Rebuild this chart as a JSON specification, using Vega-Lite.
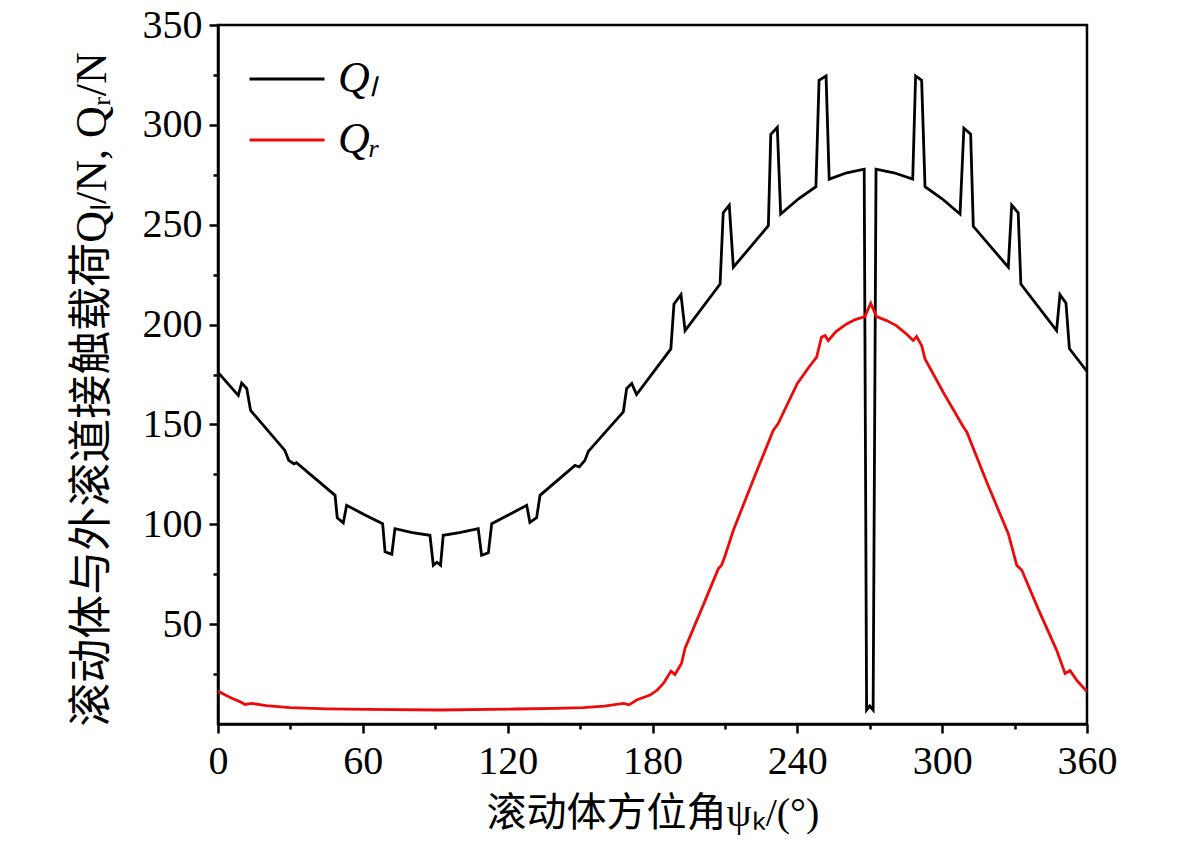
{
  "$schema": "https://vega.github.io/schema/vega-lite/v6.json",
  "width": 869,
  "height": 699,
  "autosize": "none",
  "padding": {"left": 218, "top": 25, "right": 94, "bottom": 137},
  "background": "white",
  "config": {
    "view": {"stroke": "black", "strokeWidth": 2.5, "fill": null},
    "axis": {
      "zindex": 2,
      "grid": false,
      "ticks": true,
      "domainColor": "black",
      "domainWidth": 2.5,
      "tickColor": "black",
      "tickWidth": 2.5,
      "labelFont": "Liberation Serif",
      "labelFontSize": 40,
      "labelColor": "black",
      "titleFont": "Liberation Serif, Noto Sans CJK SC",
      "titleFontWeight": "normal",
      "titleColor": "black"
    }
  },
  "data": {
    "values": [
      {"angle": 0, "load": 176, "series": "Q_l"},
      {"angle": 8.4, "load": 164.5, "series": "Q_l"},
      {"angle": 9.8, "load": 170.7, "series": "Q_l"},
      {"angle": 11.9, "load": 168, "series": "Q_l"},
      {"angle": 13.5, "load": 157, "series": "Q_l"},
      {"angle": 27.7, "load": 137, "series": "Q_l"},
      {"angle": 29.3, "load": 132, "series": "Q_l"},
      {"angle": 31.5, "load": 130.2, "series": "Q_l"},
      {"angle": 32.5, "load": 130.8, "series": "Q_l"},
      {"angle": 48.5, "load": 114.5, "series": "Q_l"},
      {"angle": 49.4, "load": 103.3, "series": "Q_l"},
      {"angle": 51.9, "load": 100.7, "series": "Q_l"},
      {"angle": 53.3, "load": 109.5, "series": "Q_l"},
      {"angle": 60.7, "load": 104.8, "series": "Q_l"},
      {"angle": 68.2, "load": 100.3, "series": "Q_l"},
      {"angle": 69.2, "load": 86.2, "series": "Q_l"},
      {"angle": 72, "load": 85, "series": "Q_l"},
      {"angle": 73.3, "load": 97.8, "series": "Q_l"},
      {"angle": 80.5, "load": 95.8, "series": "Q_l"},
      {"angle": 87.8, "load": 94.5, "series": "Q_l"},
      {"angle": 89.2, "load": 79.5, "series": "Q_l"},
      {"angle": 90.7, "load": 81, "series": "Q_l"},
      {"angle": 92.2, "load": 79.5, "series": "Q_l"},
      {"angle": 93.3, "load": 94.5, "series": "Q_l"},
      {"angle": 100, "load": 95.8, "series": "Q_l"},
      {"angle": 107.8, "load": 97.8, "series": "Q_l"},
      {"angle": 109.2, "load": 84.5, "series": "Q_l"},
      {"angle": 112, "load": 85.7, "series": "Q_l"},
      {"angle": 113.4, "load": 100.3, "series": "Q_l"},
      {"angle": 120.5, "load": 104.8, "series": "Q_l"},
      {"angle": 127.9, "load": 109.5, "series": "Q_l"},
      {"angle": 129.2, "load": 101, "series": "Q_l"},
      {"angle": 132, "load": 103.3, "series": "Q_l"},
      {"angle": 133.4, "load": 114.5, "series": "Q_l"},
      {"angle": 147.9, "load": 129.5, "series": "Q_l"},
      {"angle": 149.7, "load": 128.7, "series": "Q_l"},
      {"angle": 152, "load": 132, "series": "Q_l"},
      {"angle": 153.4, "load": 136.5, "series": "Q_l"},
      {"angle": 167.9, "load": 156.3, "series": "Q_l"},
      {"angle": 169.3, "load": 168, "series": "Q_l"},
      {"angle": 171.4, "load": 170.5, "series": "Q_l"},
      {"angle": 173.4, "load": 165, "series": "Q_l"},
      {"angle": 187.6, "load": 187.8, "series": "Q_l"},
      {"angle": 188.9, "load": 210.3, "series": "Q_l"},
      {"angle": 191.8, "load": 215, "series": "Q_l"},
      {"angle": 193.5, "load": 197, "series": "Q_l"},
      {"angle": 208, "load": 220.3, "series": "Q_l"},
      {"angle": 209.3, "load": 256, "series": "Q_l"},
      {"angle": 211.8, "load": 259.8, "series": "Q_l"},
      {"angle": 213.5, "load": 228.7, "series": "Q_l"},
      {"angle": 228, "load": 249.5, "series": "Q_l"},
      {"angle": 229, "load": 295.3, "series": "Q_l"},
      {"angle": 231.7, "load": 298.7, "series": "Q_l"},
      {"angle": 233.1, "load": 255.3, "series": "Q_l"},
      {"angle": 240.5, "load": 263, "series": "Q_l"},
      {"angle": 247.7, "load": 269, "series": "Q_l"},
      {"angle": 249, "load": 322.3, "series": "Q_l"},
      {"angle": 251.9, "load": 324.5, "series": "Q_l"},
      {"angle": 253.2, "load": 272.8, "series": "Q_l"},
      {"angle": 260.5, "load": 276, "series": "Q_l"},
      {"angle": 267.7, "load": 277.8, "series": "Q_l"},
      {"angle": 268.7, "load": 7, "series": "Q_l"},
      {"angle": 270, "load": 9, "series": "Q_l"},
      {"angle": 271.4, "load": 7, "series": "Q_l"},
      {"angle": 272.6, "load": 277.8, "series": "Q_l"},
      {"angle": 280, "load": 276, "series": "Q_l"},
      {"angle": 287.8, "load": 272.8, "series": "Q_l"},
      {"angle": 289, "load": 324.5, "series": "Q_l"},
      {"angle": 291.5, "load": 322.3, "series": "Q_l"},
      {"angle": 292.9, "load": 269, "series": "Q_l"},
      {"angle": 300, "load": 263, "series": "Q_l"},
      {"angle": 307.4, "load": 255.3, "series": "Q_l"},
      {"angle": 309, "load": 298.3, "series": "Q_l"},
      {"angle": 311.8, "load": 295.3, "series": "Q_l"},
      {"angle": 312.9, "load": 249.2, "series": "Q_l"},
      {"angle": 327.4, "load": 228.7, "series": "Q_l"},
      {"angle": 328.8, "load": 259.8, "series": "Q_l"},
      {"angle": 331.5, "load": 256, "series": "Q_l"},
      {"angle": 332.6, "load": 220.3, "series": "Q_l"},
      {"angle": 347.4, "load": 197, "series": "Q_l"},
      {"angle": 348.8, "load": 215, "series": "Q_l"},
      {"angle": 351.3, "load": 210.7, "series": "Q_l"},
      {"angle": 352.7, "load": 188, "series": "Q_l"},
      {"angle": 360, "load": 176.5, "series": "Q_l"},

      {"angle": 0, "load": 16.5, "series": "Q_r"},
      {"angle": 3, "load": 14.5, "series": "Q_r"},
      {"angle": 6, "load": 12.8, "series": "Q_r"},
      {"angle": 9, "load": 11.2, "series": "Q_r"},
      {"angle": 11.2, "load": 9.8, "series": "Q_r"},
      {"angle": 14, "load": 10.3, "series": "Q_r"},
      {"angle": 20, "load": 9.2, "series": "Q_r"},
      {"angle": 29.8, "load": 8.2, "series": "Q_r"},
      {"angle": 45, "load": 7.6, "series": "Q_r"},
      {"angle": 61.6, "load": 7.3, "series": "Q_r"},
      {"angle": 92, "load": 7, "series": "Q_r"},
      {"angle": 123.7, "load": 7.5, "series": "Q_r"},
      {"angle": 140, "load": 7.8, "series": "Q_r"},
      {"angle": 151.3, "load": 8.2, "series": "Q_r"},
      {"angle": 160, "load": 9, "series": "Q_r"},
      {"angle": 168, "load": 10.3, "series": "Q_r"},
      {"angle": 170.3, "load": 9.6, "series": "Q_r"},
      {"angle": 173.4, "load": 12, "series": "Q_r"},
      {"angle": 179, "load": 14.5, "series": "Q_r"},
      {"angle": 182, "load": 17, "series": "Q_r"},
      {"angle": 184.5, "load": 20.3, "series": "Q_r"},
      {"angle": 187.7, "load": 26.5, "series": "Q_r"},
      {"angle": 189.3, "load": 24.8, "series": "Q_r"},
      {"angle": 192, "load": 30.3, "series": "Q_r"},
      {"angle": 193.5, "load": 38, "series": "Q_r"},
      {"angle": 200.5, "load": 58, "series": "Q_r"},
      {"angle": 207.3, "load": 77.8, "series": "Q_r"},
      {"angle": 208.6, "load": 79.5, "series": "Q_r"},
      {"angle": 210, "load": 84, "series": "Q_r"},
      {"angle": 213.5, "load": 97, "series": "Q_r"},
      {"angle": 222, "load": 123, "series": "Q_r"},
      {"angle": 230, "load": 147, "series": "Q_r"},
      {"angle": 232, "load": 150.3, "series": "Q_r"},
      {"angle": 240, "load": 170.5, "series": "Q_r"},
      {"angle": 245, "load": 179, "series": "Q_r"},
      {"angle": 248, "load": 183.7, "series": "Q_r"},
      {"angle": 250, "load": 193.7, "series": "Q_r"},
      {"angle": 251.5, "load": 194.5, "series": "Q_r"},
      {"angle": 252.8, "load": 192, "series": "Q_r"},
      {"angle": 256, "load": 196.5, "series": "Q_r"},
      {"angle": 260.4, "load": 200.3, "series": "Q_r"},
      {"angle": 264, "load": 202.5, "series": "Q_r"},
      {"angle": 268, "load": 204, "series": "Q_r"},
      {"angle": 270.4, "load": 210.7, "series": "Q_r"},
      {"angle": 272.8, "load": 204, "series": "Q_r"},
      {"angle": 277, "load": 202, "series": "Q_r"},
      {"angle": 281, "load": 199.5, "series": "Q_r"},
      {"angle": 285, "load": 195.5, "series": "Q_r"},
      {"angle": 288, "load": 192, "series": "Q_r"},
      {"angle": 289.4, "load": 194, "series": "Q_r"},
      {"angle": 291.5, "load": 189.5, "series": "Q_r"},
      {"angle": 292.9, "load": 182.8, "series": "Q_r"},
      {"angle": 300.5, "load": 166, "series": "Q_r"},
      {"angle": 308.8, "load": 148.7, "series": "Q_r"},
      {"angle": 310.2, "load": 146.2, "series": "Q_r"},
      {"angle": 318.5, "load": 121, "series": "Q_r"},
      {"angle": 327.4, "load": 95.3, "series": "Q_r"},
      {"angle": 330.9, "load": 79.5, "series": "Q_r"},
      {"angle": 333, "load": 77, "series": "Q_r"},
      {"angle": 340, "load": 57, "series": "Q_r"},
      {"angle": 347.4, "load": 37, "series": "Q_r"},
      {"angle": 349.5, "load": 30, "series": "Q_r"},
      {"angle": 350.9, "load": 25.3, "series": "Q_r"},
      {"angle": 353, "load": 26.7, "series": "Q_r"},
      {"angle": 356, "load": 21.5, "series": "Q_r"},
      {"angle": 360, "load": 16.2, "series": "Q_r"}
    ]
  },
  "resolve": {"axis": {"x": "independent", "y": "independent"}},
  "layer": [
    {
      "mark": {"type": "line", "opacity": 0},
      "encoding": {
        "x": {
          "field": "angle",
          "type": "quantitative",
          "scale": {"domain": [0, 360], "nice": false, "zero": false},
          "axis": {
            "orient": "bottom",
            "values": [30, 90, 150, 210, 270, 330],
            "tickSize": 5,
            "labels": false,
            "domain": false,
            "title": null,
            "encode": {"ticks": {"update": {"y2": {"value": -5}}}}
          }
        },
        "y": {
          "field": "load",
          "type": "quantitative",
          "scale": {"domain": [0, 350], "nice": false},
          "axis": {
            "orient": "left",
            "values": [25, 75, 125, 175, 225, 275, 325],
            "tickSize": 5,
            "labels": false,
            "domain": false,
            "title": null,
            "encode": {"ticks": {"update": {"x2": {"value": 5}}}}
          }
        },
        "detail": {"field": "series"}
      }
    },
    {
      "mark": {"type": "line", "strokeWidth": 2.8, "clip": true},
      "encoding": {
        "x": {
          "field": "angle",
          "type": "quantitative",
          "scale": {"domain": [0, 360], "nice": false, "zero": false},
          "axis": {
            "orient": "bottom",
            "title": "滚动体方位角ψₖ/(°)",
            "titleFontSize": 40,
            "values": [0, 60, 120, 180, 240, 300, 360],
            "tickSize": 9,
            "labelPadding": 8,
            "labelFlush": false,
            "labelOverlap": false,
            "titlePadding": 12,
            "encode": {"ticks": {"update": {"y2": {"value": -9}}}}
          }
        },
        "y": {
          "field": "load",
          "type": "quantitative",
          "scale": {"domain": [0, 350], "nice": false},
          "axis": {
            "orient": "left",
            "title": "滚动体与外滚道接触载荷Qₗ/N, Qᵣ/N",
            "titleFontSize": 44,
            "titleY": 364,
            "values": [50, 100, 150, 200, 250, 300, 350],
            "tickSize": 9,
            "labelPadding": 7,
            "labelFlush": false,
            "labelOverlap": false,
            "titlePadding": 28,
            "encode": {"ticks": {"update": {"x2": {"value": 9}}}}
          }
        },
        "color": {
          "field": "series",
          "type": "nominal",
          "scale": {"domain": ["Q_l", "Q_r"], "range": ["#000000", "#ee0a0a"]},
          "legend": {
            "title": null,
            "orient": "none",
            "legendX": 30,
            "legendY": 15,
            "padding": 0,
            "symbolType": "stroke",
            "symbolSize": 5625,
            "symbolStrokeWidth": 2.8,
            "rowPadding": -17,
            "labelOffset": 12,
            "labelFont": "Liberation Serif",
            "labelFontStyle": "italic",
            "labelFontSize": 44,
            "labelColor": "black",
            "labelExpr": "datum.value === 'Q_l' ? 'Qₗ' : 'Qᵣ'"
          }
        }
      }
    }
  ]
}
